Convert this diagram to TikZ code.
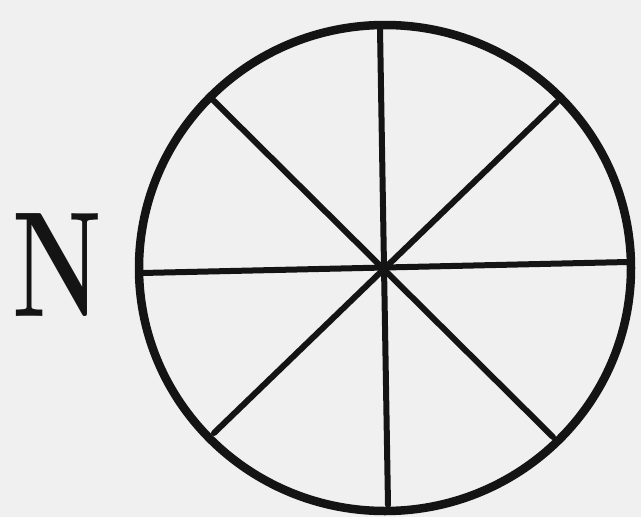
\documentclass[tikz,border=0pt]{standalone}
\begin{document}
\begin{tikzpicture}[x=1pt,y=-1pt,
  spoke/.style={line width=6pt,line cap=round,black!92},
  rim/.style={line width=8.5pt,black!92}]
\fill[white!88!gray] (0,0) rectangle (641,517);
\useasboundingbox (0,0) rectangle (641,517);
\coordinate (c) at (385,268);
\draw[rim] (c) ellipse [x radius=246, y radius=243];
\coordinate (t) at (380,28);
\coordinate (b) at (388,505);
\coordinate (l) at (142,273);
\coordinate (r) at (628,262);
\coordinate (ul) at (213,100);
\coordinate (ur) at (557,102);
\coordinate (ll) at (214,433);
\coordinate (lr) at (553,437);
\draw[spoke] (t) -- (b);
\draw[spoke] (l) -- (r);
\draw[spoke] (ul) -- (lr);
\draw[spoke] (ur) -- (ll);
\node[inner sep=0pt, xscale=0.68, text=black!92] (n) at (57,265) {\fontsize{150}{150}\selectfont\bfseries N};
\end{tikzpicture}
\end{document}
